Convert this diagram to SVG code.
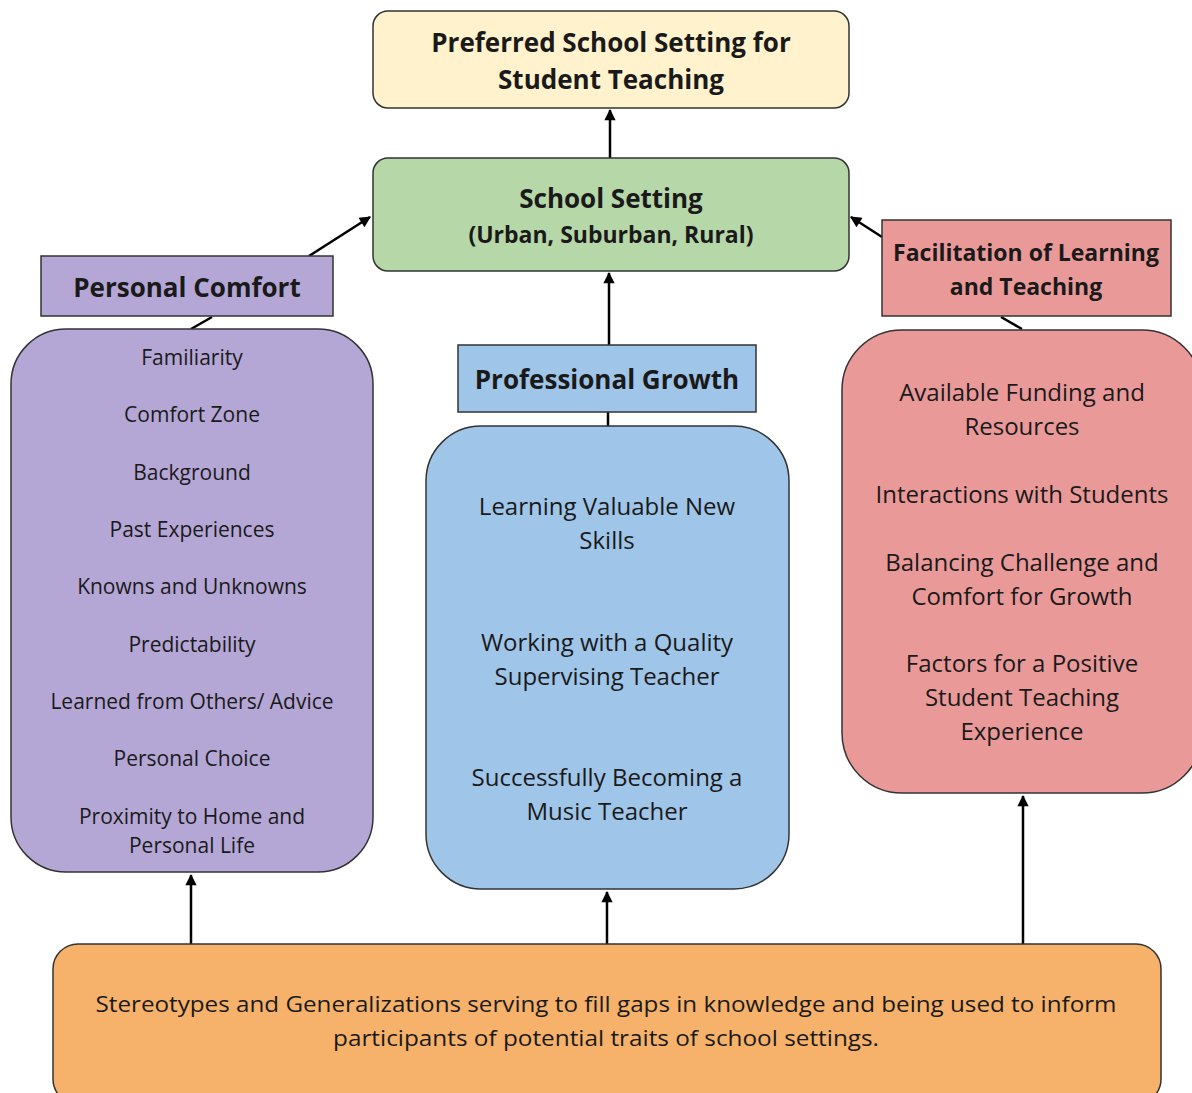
<svg xmlns="http://www.w3.org/2000/svg" width="1192" height="1093" viewBox="0 0 1192 1093">
<style>
.box{stroke:#333;stroke-width:1.5}
.t{font-family:"Open Sans","Liberation Sans",sans-serif;fill:#1a1a1a;text-anchor:middle}
.b{font-weight:bold}
.i{font-size:21px}
.j{font-size:24px}
.c{stroke:#000;stroke-width:2.5;fill:none}
</style>
<defs>
<marker id="ah" viewBox="0 0 10 10" refX="9" refY="5" markerWidth="5.5" markerHeight="4.5" orient="auto" markerUnits="strokeWidth">
<path d="M0,0 L10,5 L0,10 z" fill="#000"/>
</marker>
</defs>
<rect width="1192" height="1093" fill="#fff"/>
<g id="connectors">
<line class="c" x1="610" y1="158" x2="610" y2="110" marker-end="url(#ah)"/>
<line class="c" x1="309" y1="256" x2="370" y2="217" marker-end="url(#ah)"/>
<line class="c" x1="212" y1="317" x2="191" y2="329"/>
<line class="c" x1="609" y1="345" x2="609" y2="273" marker-end="url(#ah)"/>
<line class="c" x1="608" y1="412" x2="608" y2="426"/>
<line class="c" x1="882" y1="237" x2="851" y2="217" marker-end="url(#ah)"/>
<line class="c" x1="1001" y1="317" x2="1022" y2="329"/>
<line class="c" x1="191" y1="944" x2="191" y2="875" marker-end="url(#ah)"/>
<line class="c" x1="607" y1="944" x2="607" y2="892" marker-end="url(#ah)"/>
<line class="c" x1="1023" y1="944" x2="1023" y2="796" marker-end="url(#ah)"/>
</g>
<g id="preferred">
<rect class="box" x="373" y="11" width="476" height="97" rx="15" fill="#fff2cc"/>
<text class="t b" font-size="26" x="611" y="52">Preferred School Setting for</text>
<text class="t b" font-size="26" x="611" y="89">Student Teaching</text>
</g>
<g id="school-setting">
<rect class="box" x="373" y="158" width="476" height="113" rx="15" fill="#b6d7a8"/>
<text class="t b" font-size="26" x="611" y="208">School Setting</text>
<text class="t b" font-size="23" x="611" y="243">(Urban, Suburban, Rural)</text>
</g>
<g id="personal-comfort-label">
<rect class="box" x="41" y="256" width="292" height="60" fill="#b4a7d6"/>
<text class="t b" font-size="26" x="187" y="297">Personal Comfort</text>
</g>
<g id="personal-comfort-list">
<rect class="box" x="11" y="329" width="362" height="543" rx="55" fill="#b4a7d6"/>
<text class="t i" x="192" y="365">Familiarity</text>
<text class="t i" x="192" y="422">Comfort Zone</text>
<text class="t i" x="192" y="480">Background</text>
<text class="t i" x="192" y="537">Past Experiences</text>
<text class="t i" x="192" y="594">Knowns and Unknowns</text>
<text class="t i" x="192" y="652">Predictability</text>
<text class="t i" x="192" y="709">Learned from Others/ Advice</text>
<text class="t i" x="192" y="766">Personal Choice</text>
<text class="t i" x="192" y="824">Proximity to Home and</text>
<text class="t i" x="192" y="853">Personal Life</text>
</g>
<g id="professional-growth-label">
<rect class="box" x="458" y="345" width="298" height="67" fill="#9fc5e8"/>
<text class="t b" font-size="26" x="607" y="389">Professional Growth</text>
</g>
<g id="professional-growth-list">
<rect class="box" x="426" y="426" width="363" height="463" rx="55" fill="#9fc5e8"/>
<text class="t j" x="607" y="515">Learning Valuable New</text>
<text class="t j" x="607" y="549">Skills</text>
<text class="t j" x="607" y="651">Working with a Quality</text>
<text class="t j" x="607" y="685">Supervising Teacher</text>
<text class="t j" x="607" y="786">Successfully Becoming a</text>
<text class="t j" x="607" y="820">Music Teacher</text>
</g>
<g id="facilitation-label">
<rect class="box" x="882" y="220" width="289" height="96" fill="#ea9999"/>
<text class="t b" font-size="23" x="1026" y="261">Facilitation of Learning</text>
<text class="t b" font-size="23" x="1026" y="295">and Teaching</text>
</g>
<g id="facilitation-list">
<rect class="box" x="842" y="330" width="360" height="463" rx="60" fill="#ea9999"/>
<text class="t j" x="1022" y="401">Available Funding and</text>
<text class="t j" x="1022" y="435">Resources</text>
<text class="t j" x="1022" y="503">Interactions with Students</text>
<text class="t j" x="1022" y="571">Balancing Challenge and</text>
<text class="t j" x="1022" y="605">Comfort for Growth</text>
<text class="t j" x="1022" y="672">Factors for a Positive</text>
<text class="t j" x="1022" y="706">Student Teaching</text>
<text class="t j" x="1022" y="740">Experience</text>
</g>
<g id="stereotypes">
<rect class="box" x="53" y="944" width="1108" height="160" rx="25" fill="#f6b26b"/>
<text class="t i" x="606" y="1012" textLength="1021" lengthAdjust="spacingAndGlyphs">Stereotypes and Generalizations serving to fill gaps in knowledge and being used to inform</text>
<text class="t i" x="606" y="1046" textLength="546" lengthAdjust="spacingAndGlyphs">participants of potential traits of school settings.</text>
</g>
</svg>
